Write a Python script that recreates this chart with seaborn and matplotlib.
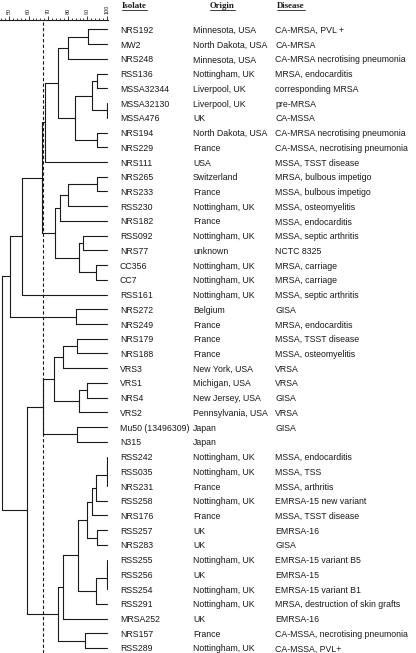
import matplotlib
matplotlib.use("Agg")
import matplotlib.pyplot as plt
import seaborn as sns
import pandas as pd
from matplotlib.ticker import MultipleLocator
from matplotlib.transforms import blended_transform_factory
from matplotlib.lines import Line2D

isolates = ["NRS192", "MW2", "NRS248", "RSS136", "MSSA32344", "MSSA32130", "MSSA476",
            "NRS194", "NRS229", "NRS111", "NRS265", "NRS233", "RSS230", "NRS182",
            "RSS092", "NRS77", "CC356", "CC7", "RSS161", "NRS272", "NRS249", "NRS179",
            "NRS188", "VRS3", "VRS1", "NRS4", "VRS2", "Mu50 (13496309)", "N315",
            "RSS242", "RSS035", "NRS231", "RSS258", "NRS176", "RSS257", "NRS283",
            "RSS255", "RSS256", "RSS254", "RSS291", "MRSA252", "NRS157", "RSS289"]
origins = ["Minnesota, USA", "North Dakota, USA", "Minnesota, USA", "Nottingham, UK",
           "Liverpool, UK", "Liverpool, UK", "UK", "North Dakota, USA", "France", "USA",
           "Switzerland", "France", "Nottingham, UK", "France", "Nottingham, UK", "unknown",
           "Nottingham, UK", "Nottingham, UK", "Nottingham, UK", "Belgium", "France",
           "France", "France", "New York, USA", "Michigan, USA", "New Jersey, USA",
           "Pennsylvania, USA", "Japan", "Japan", "Nottingham, UK", "Nottingham, UK",
           "France", "Nottingham, UK", "France", "UK", "UK", "Nottingham, UK", "UK",
           "Nottingham, UK", "Nottingham, UK", "UK", "France", "Nottingham, UK"]
diseases = ["CA-MRSA, PVL +", "CA-MRSA", "CA-MRSA necrotising pneumonia",
            "MRSA, endocarditis", "corresponding MRSA", "pre-MRSA", "CA-MSSA",
            "CA-MRSA necrotising pneumonia", "CA-MSSA, necrotising pneumonia",
            "MSSA, TSST disease", "MRSA, bulbous impetigo", "MSSA, bulbous impetigo",
            "MSSA, osteomyelitis", "MSSA, endocarditis", "MSSA, septic arthritis",
            "NCTC 8325", "MRSA, carriage", "MRSA, carriage", "MSSA, septic arthritis",
            "GISA", "MRSA, endocarditis", "MSSA, TSST disease", "MSSA, osteomyelitis",
            "VRSA", "VRSA", "GISA", "VRSA", "GISA", "", "MSSA, endocarditis", "MSSA, TSS",
            "MSSA, arthritis", "EMRSA-15 new variant", "MSSA, TSST disease", "EMRSA-16",
            "GISA", "EMRSA-15 variant B5", "EMRSA-15", "EMRSA-15 variant B1",
            "MRSA, destruction of skin grafts", "EMRSA-16",
            "CA-MSSA, necrotising pneumonia", "CA-MSSA, PVL+"]

# linkage: (child a, child b, similarity); ids >= 43 are earlier merges
merges = [(0, 1, 90.3), (43, 2, 80.1), (3, 4, 94.9), (5, 6, 100.0), (45, 46, 92.2),
          (7, 8, 94.9), (47, 48, 83.7), (44, 49, 75.0), (50, 9, 68.4), (10, 11, 94.9),
          (52, 12, 80.1), (53, 13, 76.0), (14, 15, 87.8), (16, 17, 94.4), (55, 56, 85.7),
          (54, 57, 73.5), (51, 58, 66.7), (59, 18, 56.6), (19, 20, 84.2), (60, 61, 50.5),
          (21, 22, 84.7), (63, 23, 77.6), (24, 25, 89.8), (65, 26, 85.7), (64, 66, 73.0),
          (27, 28, 84.7), (67, 68, 67.3), (29, 30, 100.0), (70, 31, 100.0), (71, 32, 94.4),
          (72, 33, 92.3), (34, 35, 94.9), (73, 74, 89.8), (36, 37, 100.0), (76, 38, 100.0),
          (77, 39, 94.4), (75, 78, 85.2), (79, 40, 77.6), (41, 42, 88.8), (80, 81, 75.0),
          (69, 82, 59.2), (62, 83, 46.4)]
cutoff = 67.5

sns.set_style("white")
plt.rcParams['font.family'] = ['Liberation Sans', 'DejaVu Sans']

W, H = 416, 653
fig = plt.figure(figsize=(W / 100, H / 100), dpi=100)
ax = fig.add_axes([0, 0, 108 / W, (H - 20) / H])

n = len(isolates)
pos = {i: (100.0, float(i)) for i in range(n)}
rows = []
seg = 0
for k, (a, b, s) in enumerate(merges):
    xa, ya = pos[a]
    xb, yb = pos[b]
    rows += [(xa, ya, seg), (s, ya, seg)]
    seg += 1
    rows += [(xb, yb, seg), (s, yb, seg)]
    seg += 1
    rows += [(s, ya, seg), (s, yb, seg)]
    seg += 1
    pos[n + k] = (s, (ya + yb) / 2)
df = pd.DataFrame(rows, columns=['x', 'y', 'seg'])

sns.lineplot(data=df, x='x', y='y', units='seg', estimator=None, sort=False,
             color='#1a1a1a', lw=0.8, legend=False, ax=ax)
ax.axvline(cutoff, ls=(0, (3, 2)), color='#1a1a1a', lw=0.8)

ax.set_xlim(45.4, 100.5)
ax.set_ylim(n - 1 + 0.34, -0.645)
sns.despine(ax=ax, top=False, right=True, left=True, bottom=True)
ax.spines['top'].set_linewidth(0.8)
ax.spines['top'].set_color('#1a1a1a')
ax.xaxis.tick_top()
ax.set_xticks(range(50, 101, 10))
ax.xaxis.set_minor_locator(MultipleLocator(2))
ax.tick_params(axis='x', which='major', length=3, width=0.6, labelsize=4,
               labelrotation=90, pad=1, colors='#1a1a1a')
ax.tick_params(axis='x', which='minor', length=1.5, width=0.6, top=True, bottom=False)
ax.set_yticks([])
ax.set_xlabel('')
ax.set_ylabel('')

trans = blended_transform_factory(fig.transFigure, ax.transData)
for i in range(n):
    ax.text(120 / W, i, isolates[i], transform=trans, va='center_baseline', fontsize=6.3,
            color='#1a1a1a', clip_on=False)
    ax.text(193 / W, i, origins[i], transform=trans, va='center_baseline', fontsize=6.3,
            color='#1a1a1a', clip_on=False)
    ax.text(275 / W, i, diseases[i], transform=trans, va='center_baseline', fontsize=6.3,
            color='#1a1a1a', clip_on=False)

headers = [("Isolate", 122), ("Origin", 210), ("Disease", 277)]
hts = []
for label, xp in headers:
    hts.append(fig.text(xp / W, 1 - 5.5 / H, label, family='Liberation Serif',
                        fontsize=6.3, fontweight='bold', va='center', color='#1a1a1a'))
fig.canvas.draw()
for t in hts:
    bb = t.get_window_extent()
    fig.add_artist(Line2D([bb.x0 / W, bb.x1 / W], [(bb.y0 - 0.5) / H] * 2,
                          transform=fig.transFigure, lw=0.6, color='#1a1a1a'))

fig.savefig("out.png", dpi=100)
